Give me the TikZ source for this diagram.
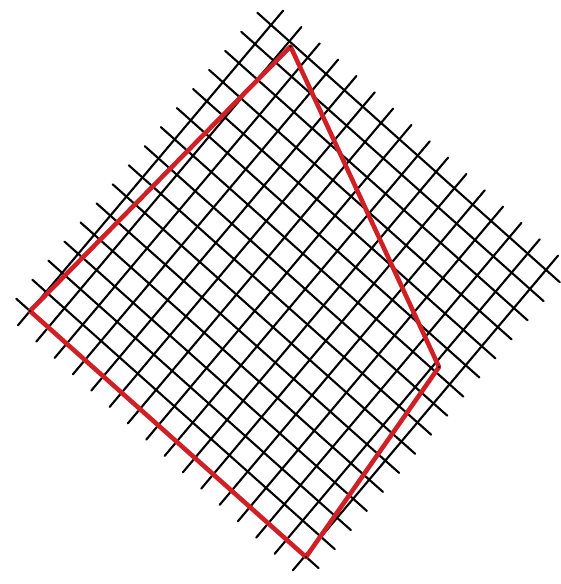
\documentclass[tikz,border=0pt]{standalone}
\usepackage{xcolor}
\definecolor{rosso}{RGB}{208,32,38}

\begin{document}
\begin{tikzpicture}[x=0.5mm, y=-0.5mm, line cap=round]

    % Area della figura (in pixel, asse y verso il basso)
    \useasboundingbox (0,0) rectangle (561,584);

    % --- GRIGLIA (ruotata, 15 x 15 quadretti) ---
    % origine nel vertice sinistro, assi lungo le righe della griglia
    \begin{scope}[shift={(30,311)}, x={(9.165mm,-8.165mm)}, y={(8.035mm,9.535mm)},
                  black, line width=3pt]
        \foreach \k in {0,...,15} {
            \draw (\k,-0.75) -- (\k,15.75);
            \draw (-0.75,\k) -- (15.75,\k);
        }
    \end{scope}

    % --- VERTICI DEL QUADRILATERO ---
    \coordinate (Pt) at (290.5,46.5);   % alto
    \coordinate (Pd) at (439,367);      % destra
    \coordinate (Pb) at (306,557);      % basso
    \coordinate (Ps) at (30,311);       % sinistra

    % --- QUADRILATERO (in rosso) ---
    \draw[rosso, line width=6.5pt, line join=round] (Pt) -- (Pd) -- (Pb) -- (Ps) -- cycle;

    % punti sui vertici
    \foreach \v in {Pt, Pd, Pb, Ps} {
        \fill[black] (\v) circle (2pt);
    }

\end{tikzpicture}
\end{document}
